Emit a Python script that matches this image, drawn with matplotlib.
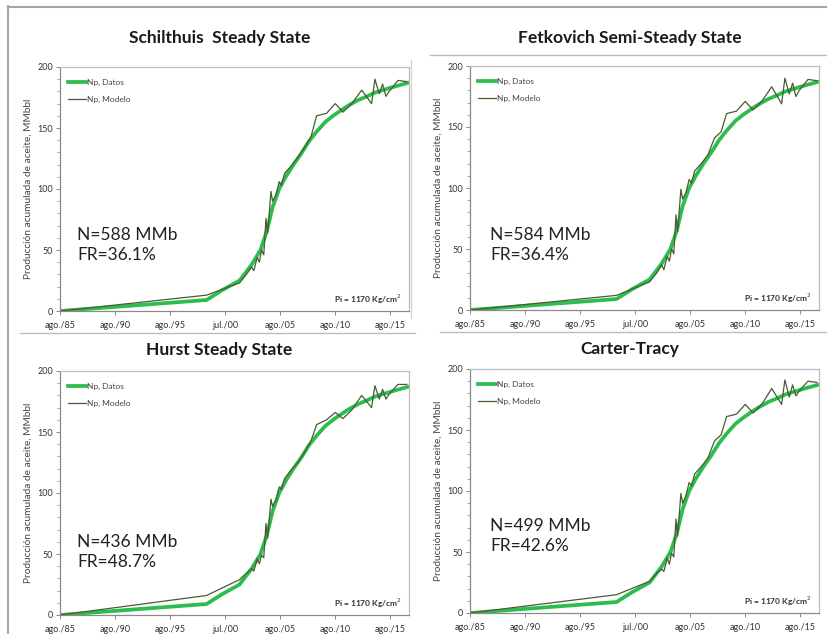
import matplotlib
matplotlib.use("Agg")
import matplotlib.pyplot as plt
from matplotlib.lines import Line2D
from matplotlib.ticker import MultipleLocator

plt.rcParams['font.family'] = ['Lato', 'DejaVu Sans']

# dates as decimal years (ticks every 5 years from Aug 1985)
tick_pos = [1985.58, 1990.58, 1995.58, 2000.58, 2005.58, 2010.58, 2015.58]
tick_labels = ["ago./85", "ago./90", "ago./95", "jul./00", "ago./05", "ago./10", "ago./15"]

# Np, Datos (same observed data in every panel)
datos_x = [1985.58, 1998.9, 2000.3, 2001.9, 2003.0, 2003.8, 2004.4, 2004.9, 2005.5, 2006.1,
           2006.8, 2007.5, 2008.2, 2008.9, 2009.7, 2010.4, 2011.2, 2011.9, 2012.7, 2013.5,
           2014.2, 2014.9, 2016.0, 2017.2]
datos_y = [0, 9, 17, 25, 38, 50, 66, 85, 100, 110, 120, 129, 139, 147, 155, 160, 165, 169,
           173, 176, 179, 181, 184, 187]

# Np, Modelo for each aquifer model
mod_x = [1985.58, 1998.9, 2001.9, 2002.6, 2003.0, 2003.2, 2003.5, 2003.7, 2003.9, 2004.1,
         2004.3, 2004.45, 2004.6, 2004.75, 2004.9, 2005.2, 2005.5, 2005.7, 2006.0, 2006.6,
         2007.2, 2007.8, 2008.4, 2008.9, 2009.8, 2010.6, 2011.3, 2012.1, 2013.0, 2013.9,
         2014.2, 2014.6, 2014.9, 2015.2, 2015.5, 2016.3, 2017.1]
mod_schilthuis = [0, 13, 23, 31, 36, 33, 44, 40, 50, 46, 76, 64, 80, 98, 90, 95, 106, 103,
                  113, 119, 126, 134, 143, 160, 162, 170, 163, 170, 181, 170, 190, 178, 186,
                  176, 180, 189, 188]
mod_fetkovich = [0, 12, 23, 31, 37, 33, 44, 40, 50, 46, 78, 64, 82, 99, 91, 96, 107, 104,
                 114, 120, 127, 141, 146, 161, 163, 171, 164, 171, 183, 169, 190, 177, 186,
                 175, 180, 189, 188]
mod_hurst = [0, 16, 29, 35, 38, 36, 46, 42, 49, 47, 75, 63, 78, 95, 89, 94, 105, 103, 112,
             119, 125, 133, 143, 156, 160, 166, 161, 168, 180, 170, 188, 177, 185, 177, 181,
             189, 189]
mod_carter = [0, 15, 26, 33, 36, 34, 45, 40, 49, 46, 77, 63, 81, 98, 90, 96, 107, 104, 114,
              120, 127, 141, 146, 161, 163, 171, 164, 171, 184, 171, 191, 177, 187, 178, 182,
              190, 189]

titles = ["Schilthuis  Steady State", "Fetkovich Semi-Steady State",
          "Hurst Steady State", "Carter-Tracy"]
n_labels = ["N=588 MMb\nFR=36.1%", "N=584 MMb\nFR=36.4%",
            "N=436 MMb\nFR=48.7%", "N=499 MMb\nFR=42.6%"]
modelos = [mod_schilthuis, mod_fetkovich, mod_hurst, mod_carter]

W, H = 827, 634
fig = plt.figure(figsize=(W / 100, H / 100), dpi=100)

# axes boxes in pixels: left, top, right, bottom
boxes = [(60, 67, 409, 311), (470, 66, 819, 310), (60, 371, 409, 615), (470, 369, 819, 613)]
title_y = [38, 38, 350, 349]
note_y = [0.27, 0.266, 0.26, 0.315]
note_x = [0.049, 0.057, 0.049, 0.057]

green = '#2dbd4e'
olive = '#4b5a33'

for i, (l, t, r, b) in enumerate(boxes):
    ax = fig.add_axes([l / W, 1 - b / H, (r - l) / W, (b - t) / H])
    ax.plot(datos_x, datos_y, color=green, lw=2.7, label="Np, Datos", solid_joinstyle='round')
    ax.plot(mod_x, modelos[i], color=olive, lw=0.9, label="Np, Modelo")
    ax.set_xlim(1985.58, 2017.3)
    ax.set_ylim(0, 200)
    ax.set_xticks(tick_pos)
    ax.set_xticklabels(tick_labels)
    ax.yaxis.set_major_locator(MultipleLocator(50))
    ax.yaxis.set_minor_locator(MultipleLocator(10))
    ax.tick_params(axis='both', labelsize=6.5, colors='#8a8a8a', labelcolor='#333333',
                   length=3, width=0.7, pad=2)
    ax.tick_params(axis='x', pad=4)
    ax.tick_params(axis='y', which='minor', length=2, width=0.6, colors='#9a9a9a')
    for s in ax.spines.values():
        s.set_color('#bdbdbd')
        s.set_linewidth(0.9)
    ax.spines['left'].set_color('#8a8a8a')
    ax.spines['bottom'].set_color('#8a8a8a')
    ax.set_ylabel("Producción acumulada de aceite, MMbbl", fontsize=7.3, color='#444444',
                  labelpad=3)
    leg = ax.legend(loc='upper left', bbox_to_anchor=(0.0, 0.985), frameon=False,
                    fontsize=6, handlelength=2.1, handletextpad=0.1, labelspacing=1.2,
                    borderaxespad=0.6)
    for txt in leg.get_texts():
        txt.set_color('#444444')
    ax.text(note_x[i], note_y[i], n_labels[i], transform=ax.transAxes, fontsize=12.5,
            va='center', ha='left', linespacing=1.3, color='#222222')
    ax.text(0.98, 0.05, "Pi = 1170 Kg/cm$^2$", transform=ax.transAxes, fontsize=6,
            fontweight='bold', ha='right', va='center', color='#333333')
    fig.text(((l + r) / 2 - 15) / W, 1 - title_y[i] / H, titles[i], fontsize=12.5,
             fontweight='bold', ha='center', va='center', color='#1a1a1a')

# frame lines around the slide
def hline(y, x0, x1, c='#a6a6a6', lw=1.5):
    fig.add_artist(Line2D([x0 / W, x1 / W], [1 - y / H, 1 - y / H], color=c, lw=lw,
                          transform=fig.transFigure))

def vline(x, y0, y1, c='#a6a6a6', lw=1.5):
    fig.add_artist(Line2D([x / W, x / W], [1 - y0 / H, 1 - y1 / H], color=c, lw=lw,
                          transform=fig.transFigure))

hline(6.5, 8, 827)
vline(8, 6, 634)
hline(54.5, 430, 827, c='#bdbdbd', lw=1.0)
hline(332.5, 20, 415, c='#bdbdbd', lw=1.0)
hline(332, 440, 827, c='#bdbdbd', lw=1.0)
vline(411, 60, 318, c='#d0d0d0', lw=0.8)

fig.savefig("out.png", dpi=100)
